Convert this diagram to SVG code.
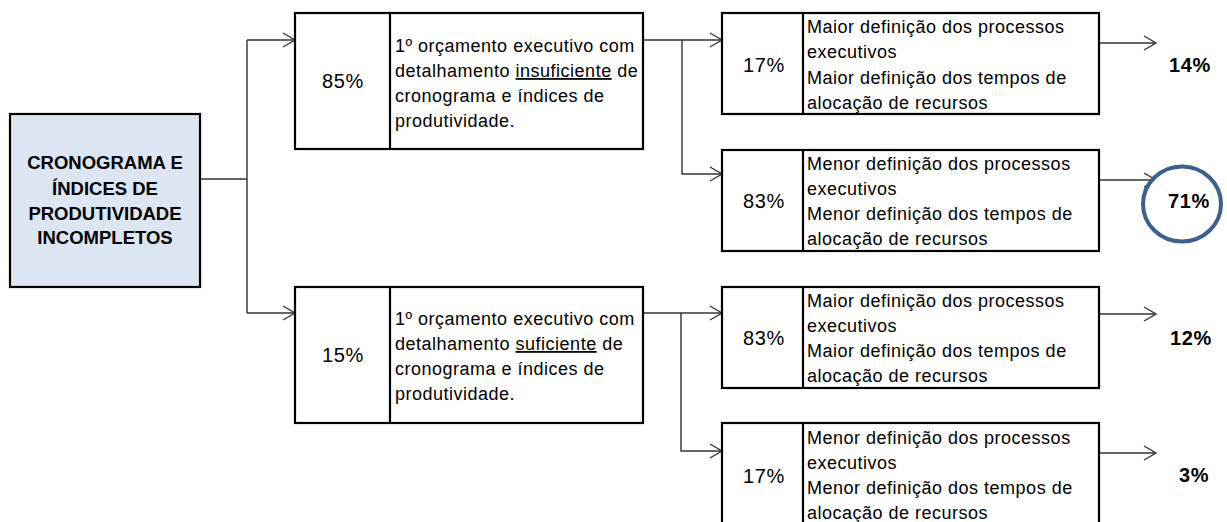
<svg xmlns="http://www.w3.org/2000/svg" width="1227" height="522" viewBox="0 0 1227 522">
<style>
text{font-family:"Liberation Sans",Arial,sans-serif;fill:#000}
.box{fill:#fff;stroke:#000;stroke-width:2.2}
.main{fill:#dce6f2;stroke:#000;stroke-width:2.2}
.div{stroke:#000;stroke-width:2.2}
.t{font-size:18px;letter-spacing:0.5px}
.tr{font-size:18px;letter-spacing:0.5px}
.p{font-size:20px;letter-spacing:0.6px;text-anchor:middle}
.b{font-size:18.5px;font-weight:bold;text-anchor:middle}
.bp{font-size:20px;font-weight:bold;letter-spacing:0.6px;text-anchor:middle}
.c{fill:none;stroke:#333;stroke-width:1.4}
.u{text-decoration:underline}
</style>
<defs>
<marker id="arr" markerUnits="userSpaceOnUse" markerWidth="16" markerHeight="18" refX="13" refY="8" orient="auto" overflow="visible">
<path d="M1,1 L13,8 L1,15" fill="none" stroke="#333" stroke-width="1.4"/>
</marker>
</defs>
<g id="connectors">
<path class="c" d="M200,179 H247"/>
<path class="c" d="M247,40 V313"/>
<path class="c" d="M247,40 H295" marker-end="url(#arr)"/>
<path class="c" d="M247,313 H295" marker-end="url(#arr)"/>
<path class="c" d="M643,40 H722" marker-end="url(#arr)"/>
<path class="c" d="M682,40 V174 H722" marker-end="url(#arr)"/>
<path class="c" d="M643,313 H722" marker-end="url(#arr)"/>
<path class="c" d="M681,313 V451 H722" marker-end="url(#arr)"/>
<path class="c" d="M1099,43 H1156" marker-end="url(#arr)"/>
<path class="c" d="M1099,180 H1156" marker-end="url(#arr)"/>
<path class="c" d="M1099,314 H1156" marker-end="url(#arr)"/>
<path class="c" d="M1099,453 H1156" marker-end="url(#arr)"/>
</g>
<g id="root">
<rect class="main" x="10" y="114" width="190" height="173"/>
<text class="b" x="105" y="169">CRONOGRAMA E</text>
<text class="b" x="105" y="195">ÍNDICES DE</text>
<text class="b" x="105" y="220">PRODUTIVIDADE</text>
<text class="b" x="105" y="244">INCOMPLETOS</text>
</g>
<g id="n85">
<rect class="box" x="295" y="13" width="348" height="136"/>
<line class="div" x1="390" y1="13" x2="390" y2="149"/>
<text class="p" x="343" y="88">85%</text>
<text class="t" x="395" y="52">1º orçamento executivo com</text>
<text class="t" x="395" y="77">detalhamento <tspan class="u">insuficiente</tspan> de</text>
<text class="t" x="395" y="102">cronograma e índices de</text>
<text class="t" x="395" y="127">produtividade.</text>
</g>
<g id="n15">
<rect class="box" x="295" y="287" width="348" height="136"/>
<line class="div" x1="390" y1="287" x2="390" y2="423"/>
<text class="p" x="343" y="362">15%</text>
<text class="t" x="395" y="325">1º orçamento executivo com</text>
<text class="t" x="395" y="350">detalhamento <tspan class="u">suficiente</tspan> de</text>
<text class="t" x="395" y="375">cronograma e índices de</text>
<text class="t" x="395" y="400">produtividade.</text>
</g>
<g id="n17a">
<rect class="box" x="722" y="13" width="377" height="101"/>
<line class="div" x1="803" y1="13" x2="803" y2="114"/>
<text class="p" x="764" y="72">17%</text>
<text class="tr" x="807" y="33">Maior definição dos processos</text>
<text class="tr" x="807" y="58">executivos</text>
<text class="tr" x="807" y="84">Maior definição dos tempos de</text>
<text class="tr" x="807" y="109">alocação de recursos</text>
</g>
<g id="n83a">
<rect class="box" x="722" y="150" width="377" height="101"/>
<line class="div" x1="803" y1="150" x2="803" y2="251"/>
<text class="p" x="764" y="208">83%</text>
<text class="tr" x="807" y="170">Menor definição dos processos</text>
<text class="tr" x="807" y="195">executivos</text>
<text class="tr" x="807" y="220">Menor definição dos tempos de</text>
<text class="tr" x="807" y="245">alocação de recursos</text>
</g>
<g id="n83b">
<rect class="box" x="722" y="287" width="377" height="101"/>
<line class="div" x1="803" y1="287" x2="803" y2="388"/>
<text class="p" x="764" y="345">83%</text>
<text class="tr" x="807" y="307">Maior definição dos processos</text>
<text class="tr" x="807" y="332">executivos</text>
<text class="tr" x="807" y="357">Maior definição dos tempos de</text>
<text class="tr" x="807" y="382">alocação de recursos</text>
</g>
<g id="n17b">
<rect class="box" x="722" y="423" width="377" height="102"/>
<line class="div" x1="803" y1="423" x2="803" y2="525"/>
<text class="p" x="764" y="483">17%</text>
<text class="tr" x="807" y="444">Menor definição dos processos</text>
<text class="tr" x="807" y="469">executivos</text>
<text class="tr" x="807" y="494">Menor definição dos tempos de</text>
<text class="tr" x="807" y="519">alocação de recursos</text>
</g>
<g id="r14"><text class="bp" x="1190" y="72">14%</text></g>
<g id="r71">
<ellipse cx="1182" cy="204" rx="39" ry="37.5" fill="#fff" stroke="#3b5f8e" stroke-width="4"/>
<text class="bp" x="1189" y="208">71%</text>
</g>
<g id="r12"><text class="bp" x="1191" y="345">12%</text></g>
<g id="r3"><text class="bp" x="1194" y="482">3%</text></g>
</svg>
